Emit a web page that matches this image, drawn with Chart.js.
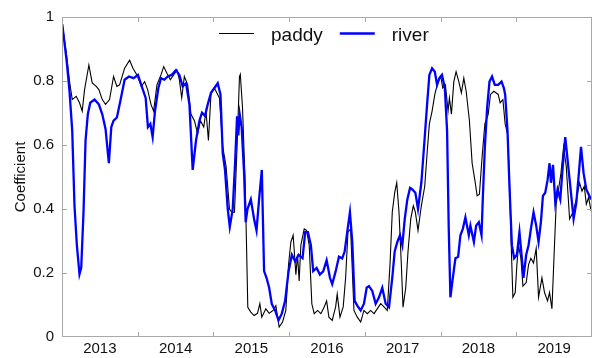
<!DOCTYPE html>
<html>
<head>
<meta charset="utf-8">
<script src="https://cdn.jsdelivr.net/npm/chart.js@4.4.1/dist/chart.umd.min.js"></script>
<style>
  html, body { margin: 0; padding: 0; background: #fff; }
  #wrap { width: 592px; height: 358px; }
</style>
</head>
<body>
<div id="wrap"><canvas id="coefChart"></canvas></div>
<script>
const yearLabels = ["2013", "2014", "2015", "2016", "2017", "2018", "2019"];
const yTicks = [0, 0.2, 0.4, 0.6, 0.8, 1];

// decimal year / coefficient
const paddyYears = [
  2013.003, 2013.056, 2013.099, 2013.135, 2013.188, 2013.231, 2013.267, 2013.298, 2013.355, 2013.399,
  2013.452, 2013.487, 2013.532, 2013.575, 2013.628, 2013.681, 2013.725, 2013.761, 2013.827, 2013.893,
  2013.937, 2013.989, 2014.048, 2014.091, 2014.131, 2014.175, 2014.210, 2014.254, 2014.307, 2014.343,
  2014.386, 2014.431, 2014.475, 2014.519, 2014.550, 2014.581, 2014.616, 2014.660, 2014.704, 2014.749,
  2014.792, 2014.828, 2014.872, 2014.902, 2014.934, 2014.968, 2015.013, 2015.079, 2015.123, 2015.167,
  2015.212, 2015.242, 2015.278, 2015.312, 2015.344, 2015.355, 2015.384, 2015.418, 2015.437, 2015.454,
  2015.494, 2015.537, 2015.582, 2015.613, 2015.639, 2015.692, 2015.736, 2015.789, 2015.824, 2015.868,
  2015.913, 2015.956, 2015.992, 2016.023, 2016.053, 2016.089, 2016.111, 2016.132, 2016.155, 2016.199,
  2016.230, 2016.265, 2016.300, 2016.331, 2016.376, 2016.419, 2016.463, 2016.495, 2016.525, 2016.569,
  2016.614, 2016.635, 2016.671, 2016.714, 2016.746, 2016.777, 2016.812, 2016.856, 2016.900, 2016.945,
  2016.988, 2017.032, 2017.077, 2017.121, 2017.164, 2017.209, 2017.253, 2017.296, 2017.332, 2017.362,
  2017.394, 2017.421, 2017.451, 2017.482, 2017.504, 2017.540, 2017.570, 2017.606, 2017.640, 2017.667,
  2017.702, 2017.746, 2017.791, 2017.822, 2017.852, 2017.888, 2017.924, 2017.967, 2018.003, 2018.029,
  2018.064, 2018.099, 2018.117, 2018.143, 2018.175, 2018.205, 2018.241, 2018.275, 2018.307, 2018.338,
  2018.381, 2018.417, 2018.453, 2018.483, 2018.513, 2018.549, 2018.585, 2018.629, 2018.659, 2018.704,
  2018.761, 2018.787, 2018.823, 2018.853, 2018.884, 2018.910, 2018.933, 2018.955, 2018.986, 2019.008,
  2019.029, 2019.061, 2019.088, 2019.131, 2019.162, 2019.193, 2019.228, 2019.263, 2019.294, 2019.339,
  2019.373, 2019.413, 2019.439, 2019.471, 2019.501, 2019.528, 2019.558, 2019.590, 2019.625, 2019.660,
  2019.704, 2019.749, 2019.793, 2019.836, 2019.868, 2019.898, 2019.925, 2019.955, 2019.987
];
const paddyValues = [
  0.978, 0.89, 0.80, 0.742, 0.752, 0.732, 0.706, 0.773, 0.850, 0.794,
  0.783, 0.773, 0.742, 0.727, 0.742, 0.814, 0.783, 0.788, 0.840, 0.865,
  0.84, 0.819, 0.783, 0.798, 0.773, 0.727, 0.706, 0.788, 0.819, 0.845,
  0.824, 0.804, 0.819, 0.834, 0.804, 0.747, 0.814, 0.788, 0.696, 0.676,
  0.635, 0.676, 0.656, 0.706, 0.614, 0.76, 0.778, 0.747, 0.594, 0.533,
  0.40, 0.39, 0.39, 0.594, 0.814, 0.821, 0.717, 0.49, 0.288, 0.093,
  0.078, 0.067, 0.074, 0.104, 0.062, 0.088, 0.074, 0.083, 0.098, 0.031,
  0.047, 0.083, 0.226, 0.297, 0.318, 0.195, 0.257, 0.175, 0.287, 0.338,
  0.333, 0.287, 0.103, 0.073, 0.083, 0.073, 0.094, 0.113, 0.062, 0.052,
  0.094, 0.134, 0.062, 0.094, 0.185, 0.328, 0.338, 0.083, 0.062, 0.047,
  0.083, 0.073, 0.083, 0.073, 0.088, 0.104, 0.094, 0.083, 0.226, 0.39,
  0.451, 0.482, 0.39, 0.226, 0.093, 0.154, 0.267, 0.369, 0.41, 0.39,
  0.333, 0.41, 0.471, 0.574, 0.666, 0.706, 0.758, 0.798, 0.814, 0.778,
  0.788, 0.706, 0.747, 0.696, 0.798, 0.829, 0.798, 0.763, 0.809, 0.768,
  0.676, 0.543, 0.49, 0.441, 0.446, 0.564, 0.666, 0.696, 0.758, 0.768,
  0.758, 0.732, 0.742, 0.666, 0.635, 0.49, 0.287, 0.124, 0.139, 0.226,
  0.287, 0.246, 0.159, 0.17, 0.226, 0.246, 0.231, 0.277, 0.124, 0.185,
  0.139, 0.113, 0.139, 0.088, 0.267, 0.42, 0.461, 0.512, 0.594, 0.533,
  0.369, 0.39, 0.43, 0.482, 0.456, 0.471, 0.415, 0.436, 0.395
];

const riverYears = [
  2013.003, 2013.063, 2013.099, 2013.135, 2013.165, 2013.196, 2013.231, 2013.254, 2013.284, 2013.311,
  2013.341, 2013.373, 2013.430, 2013.487, 2013.532, 2013.575, 2013.619, 2013.651, 2013.681, 2013.725,
  2013.770, 2013.827, 2013.884, 2013.946, 2014.003, 2014.061, 2014.105, 2014.135, 2014.167, 2014.197,
  2014.228, 2014.273, 2014.307, 2014.352, 2014.396, 2014.448, 2014.505, 2014.550, 2014.594, 2014.638,
  2014.683, 2014.726, 2014.770, 2014.815, 2014.849, 2014.889, 2014.925, 2014.968, 2015.013, 2015.057,
  2015.093, 2015.123, 2015.153, 2015.189, 2015.216, 2015.255, 2015.286, 2015.312, 2015.328, 2015.347,
  2015.373, 2015.405, 2015.426, 2015.450, 2015.494, 2015.537, 2015.569, 2015.603, 2015.639, 2015.669,
  2015.701, 2015.736, 2015.771, 2015.815, 2015.860, 2015.903, 2015.947, 2015.992, 2016.036, 2016.080,
  2016.124, 2016.177, 2016.212, 2016.248, 2016.287, 2016.318, 2016.363, 2016.406, 2016.450, 2016.495,
  2016.539, 2016.569, 2016.614, 2016.658, 2016.701, 2016.733, 2016.767, 2016.803, 2016.834, 2016.865,
  2016.900, 2016.945, 2016.988, 2017.024, 2017.054, 2017.098, 2017.143, 2017.187, 2017.230, 2017.275,
  2017.319, 2017.362, 2017.394, 2017.429, 2017.464, 2017.495, 2017.527, 2017.561, 2017.597, 2017.627,
  2017.667, 2017.702, 2017.746, 2017.791, 2017.822, 2017.852, 2017.888, 2017.924, 2017.954, 2017.984,
  2018.019, 2018.056, 2018.086, 2018.108, 2018.130, 2018.162, 2018.196, 2018.232, 2018.262, 2018.294,
  2018.328, 2018.373, 2018.394, 2018.440, 2018.470, 2018.505, 2018.541, 2018.559, 2018.585, 2018.615,
  2018.646, 2018.680, 2018.716, 2018.761, 2018.805, 2018.836, 2018.853, 2018.884, 2018.910, 2018.942,
  2018.972, 2019.008, 2019.042, 2019.074, 2019.095, 2019.131, 2019.162, 2019.193, 2019.228, 2019.263,
  2019.294, 2019.325, 2019.352, 2019.382, 2019.413, 2019.439, 2019.458, 2019.485, 2019.515, 2019.545,
  2019.581, 2019.617, 2019.647, 2019.691, 2019.722, 2019.757, 2019.793, 2019.823, 2019.855, 2019.889,
  2019.925, 2019.955, 2019.987
];
const riverValues = [
  0.978, 0.86, 0.768, 0.645, 0.41, 0.288, 0.196, 0.216, 0.39, 0.614,
  0.696, 0.732, 0.742, 0.727, 0.696, 0.65, 0.543, 0.656, 0.676, 0.686,
  0.737, 0.804, 0.814, 0.809, 0.819, 0.778, 0.747, 0.656, 0.666, 0.625,
  0.706, 0.778, 0.809, 0.804, 0.814, 0.819, 0.834, 0.819, 0.783, 0.793,
  0.727, 0.522, 0.614, 0.676, 0.701, 0.691, 0.727, 0.763, 0.778, 0.793,
  0.758, 0.574, 0.522, 0.40, 0.344, 0.40, 0.543, 0.69, 0.63, 0.696,
  0.656, 0.512, 0.359, 0.40, 0.43, 0.369, 0.333, 0.43, 0.522, 0.206,
  0.185, 0.154, 0.103, 0.083, 0.052, 0.073, 0.113, 0.205, 0.257, 0.236,
  0.257, 0.246, 0.328, 0.328, 0.287, 0.206, 0.216, 0.195, 0.205, 0.24,
  0.185, 0.165, 0.205, 0.251, 0.246, 0.267, 0.328, 0.39, 0.297, 0.113,
  0.098, 0.083, 0.104, 0.154, 0.159, 0.144, 0.104, 0.124, 0.154, 0.104,
  0.093, 0.185, 0.267, 0.297, 0.318, 0.287, 0.369, 0.43, 0.466, 0.461,
  0.451, 0.40, 0.482, 0.625, 0.727, 0.819, 0.84, 0.829, 0.788, 0.809,
  0.819, 0.778, 0.645, 0.338, 0.124, 0.185, 0.246, 0.251, 0.318, 0.338,
  0.374, 0.318, 0.348, 0.297, 0.348, 0.359, 0.318, 0.441, 0.594, 0.717,
  0.798, 0.814, 0.788, 0.788, 0.798, 0.778, 0.758, 0.645, 0.471, 0.287,
  0.246, 0.257, 0.328, 0.246, 0.185, 0.257, 0.287, 0.338, 0.39, 0.348,
  0.297, 0.359, 0.441, 0.451, 0.49, 0.543, 0.482, 0.538, 0.42, 0.461,
  0.43, 0.543, 0.625, 0.522, 0.451, 0.369, 0.42, 0.502, 0.594, 0.512,
  0.461, 0.446, 0.43
];

const FONT = "'Liberation Sans', Arial, sans-serif";

function toPoints(xs, ys) {
  return xs.map((x, i) => ({ x: x, y: ys[i] }));
}

// box round the plot, inward ticks on all four sides
const framePlugin = {
  id: "frame",
  afterDatasetsDraw(chart) {
    const { ctx, chartArea: a, scales: { x, y } } = chart;
    ctx.save();
    ctx.strokeStyle = "#a8a8a8";
    ctx.lineWidth = 1;
    ctx.strokeRect(a.left + 0.5, a.top + 0.5, a.right - a.left - 1, a.bottom - a.top - 1);
    ctx.beginPath();
    for (let yr = 2014; yr < 2020; yr++) {
      const px = Math.round(x.getPixelForValue(yr)) + 0.5;
      ctx.moveTo(px, a.bottom); ctx.lineTo(px, a.bottom - 5);
      ctx.moveTo(px, a.top); ctx.lineTo(px, a.top + 5);
    }
    yTicks.slice(1, -1).forEach(v => {
      const py = Math.round(y.getPixelForValue(v)) + 0.5;
      ctx.moveTo(a.left, py); ctx.lineTo(a.left + 5, py);
      ctx.moveTo(a.right, py); ctx.lineTo(a.right - 5, py);
    });
    ctx.stroke();
    ctx.restore();
  }
};

// legend inside the plot, top centre
const legendPlugin = {
  id: "insideLegend",
  afterDraw(chart) {
    const { ctx } = chart;
    const items = chart.data.datasets.map(ds => ({ label: ds.label, color: ds.borderColor, width: ds.borderWidth }));
    ctx.save();
    ctx.font = "19px " + FONT;
    ctx.textBaseline = "alphabetic";
    let x = 219;
    const lineY = 33.5;
    items.forEach(it => {
      ctx.strokeStyle = it.color;
      ctx.lineWidth = it.width;
      ctx.beginPath();
      ctx.moveTo(x, lineY);
      ctx.lineTo(x + 35, lineY);
      ctx.stroke();
      ctx.fillStyle = "#111";
      ctx.fillText(it.label, x + 52, 40.5);
      x += 52 + ctx.measureText(it.label).width + 17;
    });
    ctx.restore();
  }
};

new Chart(document.getElementById("coefChart"), {
  type: "line",
  data: {
    datasets: [
      {
        label: "paddy",
        data: toPoints(paddyYears, paddyValues),
        borderColor: "#000000",
        borderWidth: 1.1,
        pointRadius: 0,
        tension: 0,
        order: 1
      },
      {
        label: "river",
        data: toPoints(riverYears, riverValues),
        borderColor: "#0000ff",
        borderWidth: 2.3,
        pointRadius: 0,
        tension: 0,
        order: 0
      }
    ]
  },
  options: {
    responsive: true,
    maintainAspectRatio: false,
    animation: false,
    layout: { padding: { top: 11, right: 0, left: 0, bottom: 0 } },
    plugins: {
      legend: { display: false },
      tooltip: { enabled: false }
    },
    scales: {
      x: {
        type: "linear",
        min: 2013,
        max: 2020,
        grid: { display: false, drawTicks: false },
        border: { display: false },
        afterBuildTicks: scale => {
          scale.ticks = yearLabels.map((l, i) => ({ value: 2013.5 + i }));
        },
        afterFit: scale => { scale.height = 21; },
        ticks: {
          autoSkip: false,
          maxRotation: 0,
          padding: 3,
          color: "#111",
          font: { family: FONT, size: 15 },
          callback: (value, index) => yearLabels[index]
        }
      },
      y: {
        min: 0,
        max: 1,
        grid: { display: false, drawTicks: false },
        border: { display: false },
        afterBuildTicks: scale => {
          scale.ticks = yTicks.map(v => ({ value: v }));
        },
        afterFit: scale => { scale.width = 62; },
        ticks: {
          padding: 8,
          color: "#111",
          font: { family: FONT, size: 15 },
          callback: value => String(Number(value.toFixed(1)))
        },
        title: {
          display: true,
          text: "Coefficient",
          color: "#111",
          font: { family: FONT, size: 15 },
          padding: { top: 12, bottom: 0 }
        }
      }
    }
  },
  plugins: [framePlugin, legendPlugin]
});
</script>
</body>
</html>
